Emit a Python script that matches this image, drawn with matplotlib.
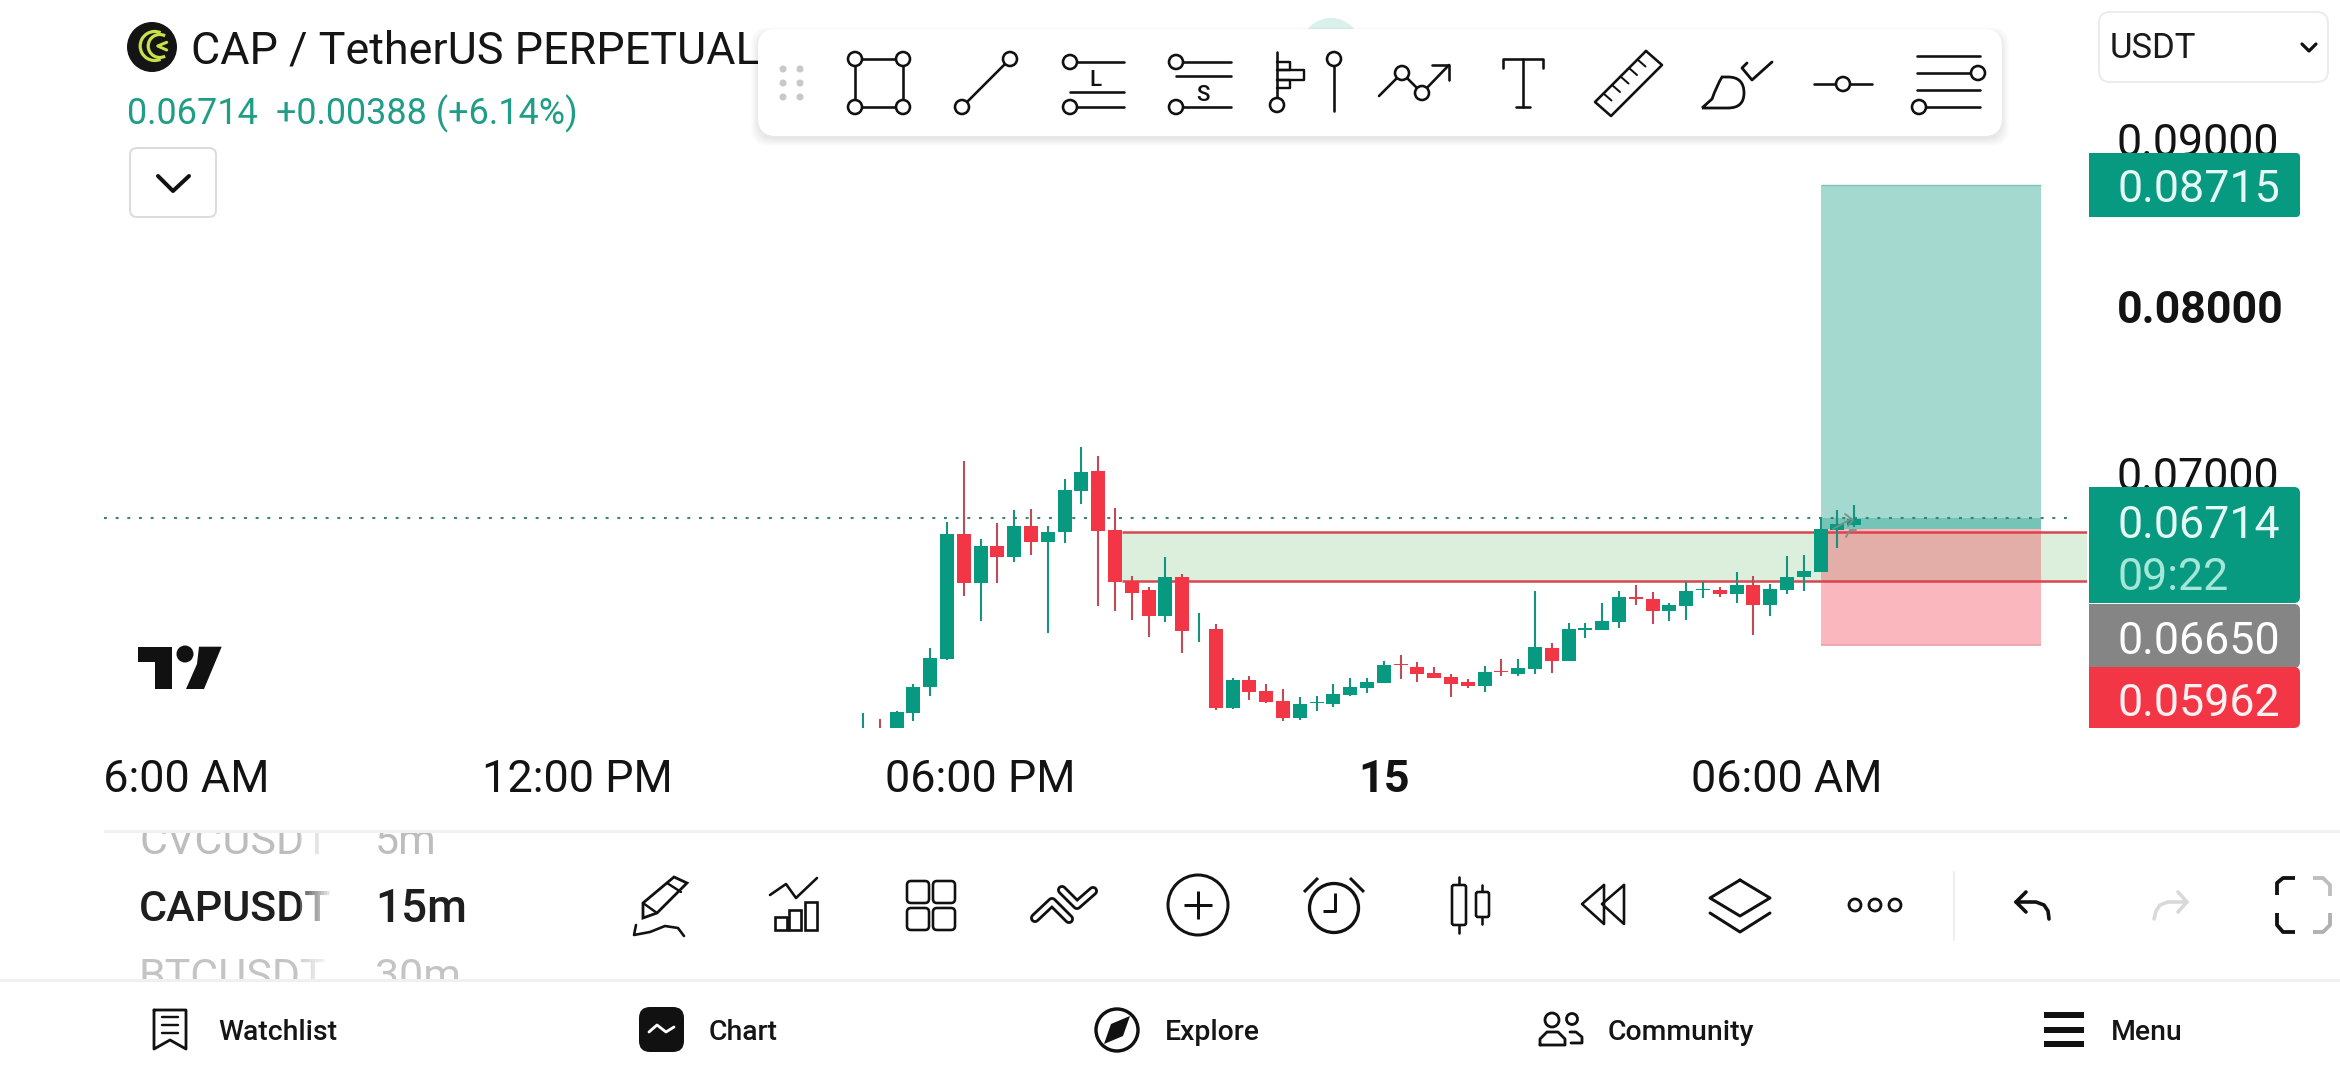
import matplotlib
matplotlib.use("Agg")
import matplotlib.pyplot as plt
from matplotlib.patches import Rectangle, Circle, FancyBboxPatch, Polygon, Arc, PathPatch
from matplotlib.path import Path
from matplotlib.transforms import ScaledTranslation

plt.rcParams['font.family'] = ['Roboto', 'DejaVu Sans']

GREEN, RED = '#089981', '#f23645'
WICK_G, WICK_R = '#16937f', '#bf4b59'

# candle data: high, body top, body bottom, low, direction (1 up / 0 down)
highs = [.05544,.05510,.05556,.05720,.05934,.06690,.07058,.06590,.06686,.06764,
         .06770,.06668,.06948,.07140,.07088,.06774,.06368,.06302,.06482,.06378,
         .06146,.06078,.05754,.05766,.05720,.05690,.05642,.05648,.05720,.05754,
         .05754,.05856,.05892,.05852,.05820,.05780,.05748,.05826,.05870,.05870,
         .06278,.05966,.06086,.06086,.06206,.06276,.06314,.06270,.06206,.06332,
         .06332,.06304,.06390,.06366,.06318,.06488,.06494,.06722,.06764,.06794]
tops  = [.05350,.05380,.05552,.05702,.05874,.06620,.06620,.06548,.06548,.06668,
         .06668,.06632,.06884,.06992,.06998,.06644,.06340,.06284,.06362,.06362,
         .06052,.06050,.05744,.05744,.05678,.05618,.05600,.05610,.05660,.05702,
         .05732,.05834,.05838,.05822,.05786,.05762,.05732,.05792,.05798,.05816,
         .05942,.05936,.06050,.06054,.06098,.06242,.06240,.06230,.06194,.06278,
         .06290,.06282,.06314,.06314,.06290,.06362,.06398,.06650,.06680,.06710]
bots  = [.05300,.05320,.05400,.05548,.05704,.05870,.06328,.06328,.06484,.06484,
         .06574,.06574,.06634,.06880,.06640,.06334,.06268,.06130,.06130,.06040,
         .06048,.05578,.05578,.05674,.05614,.05518,.05518,.05606,.05602,.05654,
         .05696,.05728,.05834,.05782,.05758,.05722,.05708,.05708,.05790,.05780,
         .05812,.05860,.05860,.06046,.06046,.06094,.06228,.06160,.06160,.06190,
         .06282,.06260,.06262,.06196,.06196,.06286,.06362,.06394,.06644,.06674]
lows  = [.05250,.05300,.05380,.05500,.05650,.05864,.06250,.06098,.06328,.06454,
         .06494,.06028,.06568,.06802,.06190,.06158,.06104,.06004,.06094,.05908,
         .05974,.05566,.05572,.05626,.05608,.05500,.05506,.05560,.05584,.05648,
         .05668,.05728,.05752,.05734,.05758,.05644,.05698,.05674,.05770,.05770,
         .05782,.05788,.05860,.05998,.06046,.06058,.06194,.06082,.06100,.06106,
         .06238,.06242,.06208,.06014,.06130,.06262,.06280,.06394,.06536,.06664]
ups   = [1,0,1,1,1,1,0,1,0,1, 0,1,1,1,0,0,0,0,1,0, 1,0,1,0,0,0,1,1,1,1,
         1,1,0,0,0,0,0,1,0,1, 1,0,1,1,1,1,0,0,1,1, 1,0,1,0,1,1,1,1,1,1]

last_price = 0.06714
entry_price = 0.06650
target_price = 0.08715
stop_price = 0.05953
zone_top, zone_bottom = 0.06634, 0.06338
position_start, position_end = 57, 70.1
zone_start = 15.4
last_line_end = 71.8

time_ticks = [-41, -17, 7, 31, 55]
time_labels = ['06:00 AM', '12:00 PM', '06:00 PM', '15', '06:00 AM']
price_ticks = [0.07, 0.08, 0.09]
price_labels = ['0.07000', '0.08000', '0.09000']
nav_labels = ['Watchlist', 'Chart', 'Explore', 'Community', 'Menu']

W, H = 2340, 1080
fig = plt.figure(figsize=(W/100, H/100), dpi=100, facecolor='white')

# ---------- main chart ----------
AX_L, AX_R, AX_B = 104, 2087, 728
ax = fig.add_axes([AX_L/W, 1-AX_B/H, (AX_R-AX_L)/W, AX_B/H], zorder=1)
PX = 16.8
ax.set_xlim((AX_L-863)/PX, (AX_R-863)/PX)
ax.set_ylim(0.0665-(AX_B-529)/16667, 0.0665+529/16667)
for s in ax.spines.values():
    s.set_visible(False)

idx = list(range(len(highs)))
ax.hlines([zone_top, zone_bottom], zone_start, ax.get_xlim()[1], color='#d6474f', lw=1.8, zorder=1.5)
ax.fill_between([zone_start, ax.get_xlim()[1]], zone_bottom, zone_top, color='#dcefdc', lw=0, zorder=1)

ax.fill_between([position_start, position_end], entry_price, target_price, color=GREEN, alpha=.37, lw=0, zorder=2)
ax.fill_between([position_start, position_end], entry_price, last_price, color=GREEN, alpha=.30, lw=0, zorder=2)
ax.fill_between([position_start, position_end], stop_price, entry_price, color=RED, alpha=.35, lw=0, zorder=2)
ax.hlines(target_price, position_start, position_end, color='#7fc5b8', lw=1, zorder=2.1)
ax.hlines(stop_price, position_start, position_end, color='#eba0aa', lw=1.2, zorder=2.1)

ax.hlines(last_price, ax.get_xlim()[0], last_line_end, color='#3f7f75', lw=1.5,
          linestyles=(0, (1.4, 4.2)), zorder=2.5)

wick_cols = [WICK_G if u else WICK_R for u in ups]
body_cols = [GREEN if u else RED for u in ups]
ax.vlines(idx, lows, highs, color=wick_cols, lw=1.5, zorder=3)
ax.bar(idx, [t-b for t, b in zip(tops, bots)], bottom=bots, width=.83, color=body_cols, lw=0, zorder=3.1)

ax.set_xticks(time_ticks, time_labels, fontsize=32.4, color='#131313')
ax.get_xticklabels()[3].set_fontweight('bold')
ax.yaxis.tick_right()
ax.set_yticks(price_ticks, price_labels, fontsize=32.2, color='#131313')
ax.get_yticklabels()[1].set_fontweight('bold')
ax.tick_params(axis='both', length=0)
ax.tick_params(axis='x', pad=22)
ax.tick_params(axis='y', pad=21.5)
down = ScaledTranslation(0, -2.5/100, fig.dpi_scale_trans)
for lab in ax.get_yticklabels():
    lab.set_transform(lab.get_transform() + down)

# ---------- screen chrome in pixels ----------
ov = fig.add_axes([0, 0, 1, 1], zorder=5)
ov.set_xlim(0, W)
ov.set_ylim(H, 0)
ov.axis('off')
ov.patch.set_alpha(0)
K = '#111111'


def line(pts, color=K, lw=2.6, z=10, cap='round'):
    ov.plot([p[0] for p in pts], [p[1] for p in pts], color=color, lw=lw*.72,
            solid_capstyle=cap, solid_joinstyle='round', zorder=z)


def ring(x, y, r=7, lw=2.6, z=11, fc='white'):
    ov.add_patch(Circle((x, y), r, fc=fc, ec=K, lw=lw*.72, zorder=z))


def box(x0, y0, x1, y1, r, fc, ec='none', lw=0, z=5, alpha=None):
    ov.add_patch(FancyBboxPatch((x0+r, y0+r), x1-x0-2*r, y1-y0-2*r,
                                boxstyle=f'round,pad={r},rounding_size={r}',
                                fc=fc, ec=ec, lw=lw*.72, zorder=z, alpha=alpha))


def txt(x, y, s, size=32.2, color=K, weight='normal', ha='left', z=12):
    ov.text(x, y, s, fontsize=size, color=color, fontweight=weight, ha=ha,
            va='center_baseline', zorder=z)


def ribbon(pts):
    line(pts, lw=10, z=10)
    line(pts, color='white', lw=4.4, z=11)


# mask left of the chart for the clipped time label
ov.add_patch(Rectangle((0, 735), AX_L, 90, fc='white', ec='none', zorder=4))

# header
ov.add_patch(Circle((152, 47), 25, fc='#141414', ec='none', zorder=6))
LIME = '#c9e04a'
ov.add_patch(Arc((154.7, 46), 29, 29, theta1=66, theta2=294, color=LIME, lw=2.3, zorder=7))
ov.add_patch(Arc((159.7, 46), 23, 23, theta1=62, theta2=298, color=LIME, lw=2.3, zorder=7))
line([(166.7, 42.3), (157.7, 46), (166.7, 50)], color=LIME, lw=3, z=7)
txt(191, 47, 'CAP / TetherUS PERPETUAL', size=32.3, color='#151515', z=6)
TEAL_T = '#1f9d86'
txt(127, 110, '0.06714', size=25.9, color=TEAL_T, z=6)
txt(276, 110, '+0.00388 (+6.14%)', size=25.9, color=TEAL_T, z=6)
box(130, 148, 216, 217, 7, 'white', '#dcdcdc', 2, z=6)
line([(158, 176), (173, 191), (189, 176)], lw=4, z=7)

# pale circle behind the toolbar
ov.add_patch(Circle((1331, 48), 30, fc='#d9f0ec', ec='none', zorder=6))

# toolbar
for i in range(8):
    box(758-i, 29-i+5, 2002+i, 136+i+3, 18, '#000000', z=7, alpha=.012)
box(758, 29, 2002, 136, 18, 'white', z=8)
for x_ in (783, 800):
    for y_ in (69, 83, 97):
        ov.add_patch(Circle((x_, y_), 3.5, fc='#c8c8c8', ec='none', zorder=9))
# rectangle tool
line([(855, 59), (903, 59), (903, 107), (855, 107), (855, 59)], lw=2.6)
for p in [(855, 59), (903, 59), (855, 107), (903, 107)]:
    ring(*p)
# line tool
line([(962, 107), (1010, 59)])
ring(962, 107)
ring(1010, 59)
# long
for y_ in (62, 107):
    line([(1070, y_), (1124, y_)])
    ring(1070, y_)
line([(1070, 92), (1124, 92)])
txt(1095, 78, 'L', size=16, weight='medium', ha='center')
# short
for y_ in (62, 107):
    line([(1176, y_), (1231, y_)])
    ring(1176, y_)
line([(1176, 76), (1231, 76)])
txt(1203, 93, 'S', size=16, weight='medium', ha='center')
# bar pattern
line([(1277, 52), (1277, 105)])
ring(1277, 105)
for x_, y0_, y1_ in ((1290, 62, 70), (1304, 70, 80), (1290, 80, 88)):
    line([(1277, y0_), (x_, y0_), (x_, y1_), (1277, y1_)], lw=2.4)
line([(1334, 59), (1334, 111)])
ring(1334, 59)
# polyline with arrow
line([(1379, 96), (1402, 73), (1422, 93), (1449, 65)])
line([(1432, 65), (1449, 65), (1449, 80)])
ring(1402, 73)
ring(1422, 93)
# text tool
line([(1503, 68), (1503, 59), (1543, 59), (1543, 68)])
line([(1523, 59), (1523, 107)])
line([(1516, 107), (1530, 107)])
# ruler
ruler = [(1646, 51), (1662, 65), (1611, 116), (1595, 102)]
line(ruler + ruler[:1])
for k in range(1, 6):
    bx, by = 1646-51*k/6, 51+51*k/6
    line([(bx, by), (bx+8, by+7)], lw=2)
# brush
brush = Path([(1702, 108), (1712, 99), (1717, 85), (1722, 77), (1728, 77), (1744, 77), (1744, 93),
              (1744, 108), (1728, 108), (1702, 108)],
             [Path.MOVETO, Path.LINETO, Path.CURVE3, Path.CURVE3, Path.LINETO, Path.CURVE3, Path.CURVE3,
              Path.CURVE3, Path.CURVE3, Path.LINETO])
ov.add_patch(PathPatch(brush, fc='white', ec=K, lw=2.0, zorder=10))
line([(1747, 63), (1742, 68), (1752, 80), (1772, 62)], lw=2.8)
# dot line
line([(1814, 84), (1872, 84)])
ring(1843, 84)
# lines
for y_ in (56, 73, 90, 107):
    line([(1917, y_), (1980, y_)])
ring(1978, 73)
ring(1919, 107)

# USDT selector
box(2099, 12, 2328, 82, 11, 'white', '#ececec', 2, z=6)
txt(2110, 45, 'USDT', size=25, color='#1a1a1a')
line([(2302, 44), (2309, 51), (2316, 44)], lw=3.2)

# price tags
box(2089, 153, 2300, 217, 4, GREEN, z=6)
ov.add_patch(Rectangle((2089, 153), 6, 64, fc=GREEN, ec='none', zorder=6))
box(2089, 487, 2300, 603, 6, GREEN, z=6)
ov.add_patch(Rectangle((2089, 487), 6, 116, fc=GREEN, ec='none', zorder=6))
box(2089, 604, 2300, 668, 6, '#858585', z=6)
ov.add_patch(Rectangle((2089, 604), 6, 64, fc='#858585', ec='none', zorder=6))
box(2089, 667, 2300, 728, 6, RED, z=6.5)
ov.add_patch(Rectangle((2089, 667), 6, 61, fc=RED, ec='none', zorder=6.5))
TAG_T = '#e6f8f4'
txt(2118, 186, '0.08715', color=TAG_T)
txt(2118, 521, '0.06714', color=TAG_T)
txt(2118, 573, '09:22', color='#a4e6d8')
txt(2118, 637, '0.06650', color='#ffffff')
txt(2118, 700, '0.05962', color='#fff0f1')

# position arrows
for a_ in ([(1833, 529), (1851, 519)], [(1845, 514), (1853, 520), (1848, 526)],
           [(1846, 537), (1850, 530), (1856, 530)]):
    line(a_, color='#77908a', lw=1.8, z=0.5)

# TradingView logo
ov.add_patch(Polygon([(137.5, 646.7), (171.6, 646.7), (171.6, 689), (154.7, 689),
                      (154.7, 662.3), (137.5, 662.3)], fc=K, ec='none', zorder=6))
ov.add_patch(Circle((185, 654), 8.5, fc=K, ec='none', zorder=6))
ov.add_patch(Polygon([(199, 646.7), (221.7, 646.7), (204, 689), (186, 689), (197, 664)],
                     fc=K, ec='none', zorder=6))

# strip below the time axis
ov.add_patch(Rectangle((104, 830), W-104, 3, fc='#f0f0f0', ec='none', zorder=9))
ov.add_patch(Rectangle((0, 979), W, 3, fc='#f0f0f0', ec='none', zorder=9))
ov.add_patch(Rectangle((100, 795), 420, 36, fc='white', ec='none', zorder=8))
ov.add_patch(Rectangle((100, 982), 420, 40, fc='white', ec='none', zorder=8))
ov.add_patch(Rectangle((330, 832), 42, 147, fc='white', ec='none', zorder=8))
txt(139, 838, 'CVCUSDT', size=31, color='#bdbdbd', z=5)
txt(375, 838, '5m', size=31, color='#bdbdbd', z=5)
txt(139, 905, 'CAPUSDT', size=31, color='#1e1e1e', weight='medium', z=5)
txt(375, 905, '15m', size=33, color='#1e1e1e', weight='medium', z=5)
txt(139, 973, 'BTCUSDT', size=31, color='#c4c4c4', z=5)
txt(375, 973, '30m', size=31, color='#c4c4c4', z=5)
for i in range(10):
    ov.add_patch(Rectangle((300+i*3, 832), 3, 147, fc='white', ec='none', alpha=.25+.07*i, zorder=7))

# bottom tool row
ov.add_patch(Polygon([(643, 903), (674, 877), (687, 883), (657, 913), (643, 918)],
                     closed=True, fc='white', ec=K, lw=2, zorder=10))
line([(643, 903), (657, 913)], lw=2.4, z=11)
line([(667, 883), (681, 892)], lw=2.4, z=11)
line([(636, 925), (634, 935), (650, 932), (665, 926), (678, 928), (684, 936)], lw=2.6)

for x0_, y0_ in ((775, 917), (789, 910), (805, 902)):
    ov.add_patch(Rectangle((x0_, y0_), 12, 930-y0_, fc='white', ec=K, lw=1.9, zorder=10))
line([(770, 895), (786, 884), (796, 898), (817, 878)])

for x_ in (907, 933):
    for y_ in (881, 908):
        box(x_, y_, x_+22, y_+22, 4, 'white', K, 2.6, z=10)

ribbon([(1035, 918), (1052, 902), (1069, 919)])
ribbon([(1062, 890), (1077, 905), (1093, 891)])

ring(1198, 905, 30, lw=3)
line([(1184, 905), (1212, 905)], lw=3, z=12, cap='butt')
line([(1198, 891), (1198, 919)], lw=3, z=12, cap='butt')

ring(1334, 908, 24.5, lw=3.3)
line([(1335, 893), (1335, 911), (1323, 911)], lw=3, z=12, cap='butt')
line([(1304, 892), (1318, 878)], lw=3, cap='butt')
line([(1350, 878), (1364, 892)], lw=3, cap='butt')

line([(1459, 877), (1459, 933)])
box(1452, 885, 1466, 925, 2, 'white', K, 2.6, z=11)
line([(1482, 885), (1482, 924)])
box(1476, 892, 1489, 917, 2, 'white', K, 2.6, z=11)

line([(1604, 885), (1582, 904), (1604, 924), (1604, 885)])
line([(1624, 885), (1602, 904), (1624, 924), (1624, 885)])

line([(1740, 880), (1770, 898), (1740, 916), (1710, 898), (1740, 880)], lw=3)
line([(1710, 913), (1740, 932), (1770, 913)], lw=3)

for x_ in (1855, 1875, 1895):
    ring(x_, 905, 6, lw=2.8)
line([(1954, 872), (1954, 940)], color='#ededed', lw=2)

line([(2026, 892), (2016, 902), (2026, 912)], lw=3.6)
line([(2016, 902), (2036, 902), (2044, 905), (2048, 911), (2049, 919)], lw=3.6)
GHOST = '#d9d9d9'
line([(2178, 892), (2187, 902), (2178, 912)], color=GHOST, lw=3.6)
line([(2187, 902), (2168, 902), (2160, 905), (2156, 911), (2154, 919)], color=GHOST, lw=3.6)

line([(2277, 895), (2277, 883), (2283, 878), (2295, 878)], lw=3.8, cap='butt')
line([(2277, 913), (2277, 925), (2283, 932), (2295, 932)], lw=3.8, cap='butt')
line([(2313, 878), (2323, 878), (2330, 885), (2330, 896)], color='#bdbdbd', lw=3.8, cap='butt')
line([(2313, 932), (2323, 932), (2330, 925), (2330, 913)], color='#b0b0b0', lw=3.8, cap='butt')

# bottom navigation
nav_x = [218, 709, 1165, 1608, 2111]
for x_, s in zip(nav_x, nav_labels):
    txt(x_, 1030, s, size=20.4, color='#151515', weight='medium')

line([(154, 1010), (186, 1010), (186, 1049), (170, 1040), (154, 1049), (154, 1010)], lw=2.8)
for y_ in (1017, 1025, 1033):
    line([(162, y_), (178, y_)], lw=2.4)

box(639, 1007, 684, 1052, 11, '#111111', z=10)
line([(649, 1032), (657, 1025), (666, 1032), (674, 1027)], color='white', lw=2.8, z=11)

ring(1117, 1030, 21, lw=3.4)
ov.add_patch(Polygon([(1130, 1016), (1123, 1036), (1104, 1044), (1111, 1024)], fc=K, ec='none', zorder=12))

ring(1552, 1020, 7, lw=2.8)
ring(1572, 1019, 5.5, lw=2.8)
line([(1540, 1045), (1540, 1039), (1547, 1032), (1558, 1032), (1565, 1039), (1565, 1045), (1540, 1045)], lw=2.8)
line([(1570, 1032), (1576, 1032), (1582, 1037), (1582, 1043), (1571, 1043)], lw=2.8)

for y_ in (1015, 1030, 1044):
    line([(2044, y_), (2084, y_)], lw=6, cap='butt')

fig.savefig('out.png', dpi=100)
